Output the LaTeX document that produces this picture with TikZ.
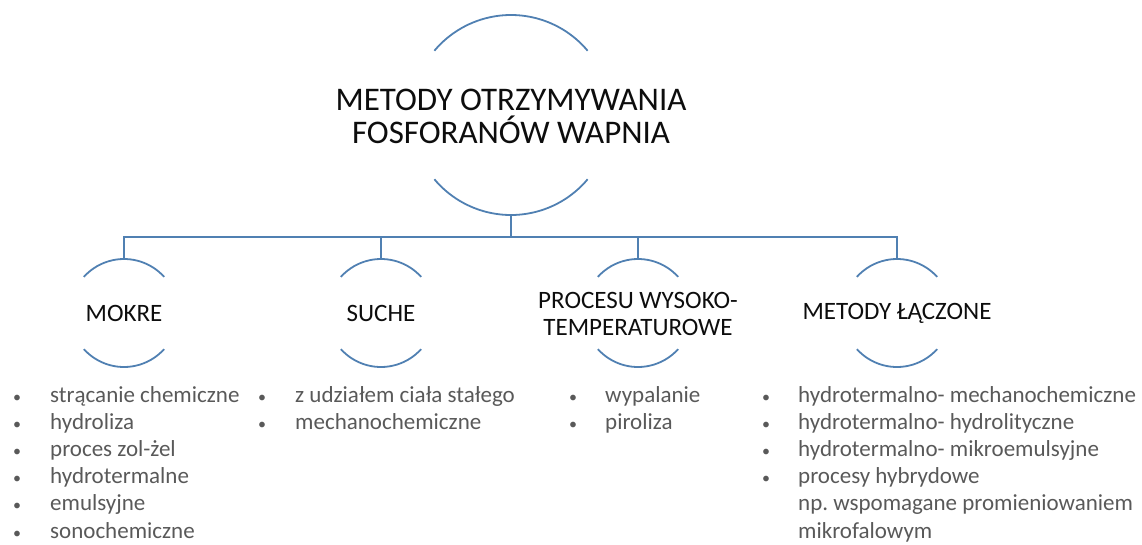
\documentclass[tikz,border=0pt]{standalone}
\usepackage{fontspec}
\setmainfont{Carlito}
\definecolor{linkblue}{RGB}{80,128,178}
\definecolor{listgray}{RGB}{89,89,89}
\definecolor{headink}{RGB}{13,13,13}
\frenchspacing
\begin{document}
\begin{tikzpicture}[x=1pt,y=-1pt,
  ring/.style={circle,minimum size=#1,inner sep=0pt,outer sep=0pt},
  arcline/.style={draw=linkblue,line width=1.8pt},
  link/.style={draw=linkblue,line width=1.8pt},
  headtext/.style={font=\fontsize{33}{33}\selectfont,align=center,text=headink},
  grouptext/.style={font=\fontsize{25}{27}\selectfont,align=center,text=headink},
  item/.style={font=\fontsize{23}{26}\selectfont,text=listgray,anchor=base west,inner sep=0pt},
  dot/.style={font=\fontsize{16}{18}\selectfont,text=listgray,anchor=base,inner sep=0pt}]
\useasboundingbox (0,0) rectangle (1142,544);

% central topic
\node[ring=200pt] (tr) at (511,115) {};
\node[headtext] (t) at (511,116) {METODY OTRZYMYWANIA\\FOSFORANÓW WAPNIA};
\draw[arcline] (tr.40) arc[start angle=40,end angle=140,radius=100pt];
\draw[arcline] (tr.220) arc[start angle=220,end angle=320,radius=100pt];

% four groups
\foreach \n/\x in {c1/124,c2/381,c3/638,c4/897}{
  \node[ring=108pt] (\n) at (\x,313) {};
  \draw[arcline] (\n.42) arc[start angle=42,end angle=138,radius=54pt];
  \draw[arcline] (\n.222) arc[start angle=222,end angle=318,radius=54pt];
}
\node[grouptext] (g1) at (c1) {MOKRE};
\node[grouptext] (g2) at (c2) {SUCHE};
\node[grouptext] (g3) at ([yshift=-0.5pt]c3) {PROCESU WYSOKO-\\TEMPERATUROWE};
\node[grouptext] (g4) at (c4) {METODY ŁĄCZONE};

% tree connectors
\coordinate (bar) at (0,237);
\draw[link] (tr.south) -- (tr.south |- bar);
\draw[link] (c1.north) |- (c4.north |- bar) -- (c4.north);
\draw[link] (c2.north |- bar) -- (c2.north);
\draw[link] (c3.north |- bar) -- (c3.north);

% bullet lists
\def\rowgap{27.2}
\foreach \t [count=\i] in {strącanie chemiczne,hydroliza,proces zol-żel,hydrotermalne,emulsyjne,sonochemiczne}{
  \node[dot] (ma\i) at ({17},{402+\rowgap*(\i-1)}) {•};
  \node[item] (mb\i) at ({50},{402+\rowgap*(\i-1)}) {\t};
}
\foreach \t [count=\i] in {z udziałem ciała stałego,mechanochemiczne}{
  \node[dot] (sa\i) at ({262},{402+\rowgap*(\i-1)}) {•};
  \node[item] (sb\i) at ({295},{402+\rowgap*(\i-1)}) {\t};
}
\foreach \t [count=\i] in {wypalanie,piroliza}{
  \node[dot] (pa\i) at ({573},{402+\rowgap*(\i-1)}) {•};
  \node[item] (pb\i) at ({605},{402+\rowgap*(\i-1)}) {\t};
}
\foreach \t [count=\i] in {hydrotermalno- mechanochemiczne,hydrotermalno- hydrolityczne,hydrotermalno- mikroemulsyjne,procesy hybrydowe}{
  \node[dot] (la\i) at ({766},{402+\rowgap*(\i-1)}) {•};
  \node[item] (lb\i) at ({798},{402+\rowgap*(\i-1)}) {\t};
}
\node[item] (lb5) at ({798},{402+\rowgap*4}) {np. wspomagane promieniowaniem};
\node[item] (lb6) at ({798},{402+\rowgap*5}) {mikrofalowym};
\end{tikzpicture}
\end{document}
